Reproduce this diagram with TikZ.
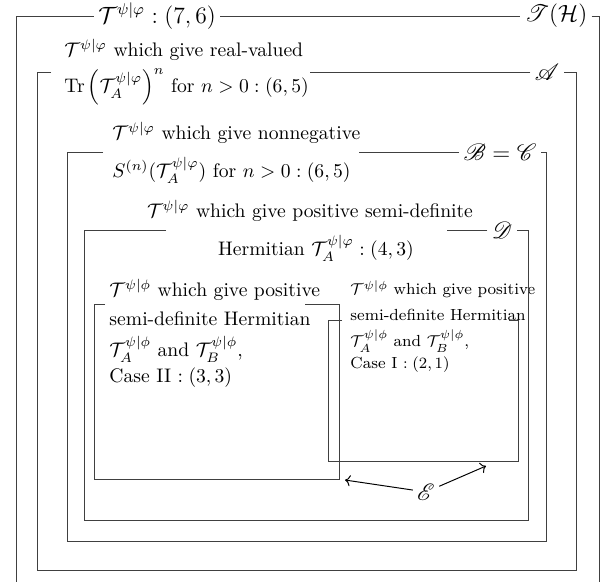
\documentclass[tikz,border=0pt]{standalone}
\usepackage{amsmath}
\usepackage{amssymb}
\usepackage{mathrsfs}
\usetikzlibrary{arrows.meta, positioning, calc}
\tikzset{
    setdiagram/.style={x=0.51pt, y=-0.51pt, line width=0.5pt, font=\normalsize},
    setedge/.style={draw=black!75},
    txt/.style={anchor=west, inner sep=0pt},
    smalltxt/.style={txt, font=\fontsize{8.2}{10}\selectfont},
    setname/.style={inner sep=2pt, font=\large},
}

\begin{document}
\begin{tikzpicture}[setdiagram]
    \useasboundingbox (0,0) rectangle (613,582);

    % names sitting on the top edges
    \node[setname] (ttl) at (157,16)  {$\mathcal{T}^{\psi|\varphi}:(7,6)$};
    \node[setname] (nT)  at (556,16)  {$\mathscr{T}(\mathcal{H})$};
    \node[setname] (nA)  at (547,72)  {$\mathscr{A}$};
    \node[setname] (nB)  at (500,152) {$\mathscr{B}=\mathscr{C}$};
    \node[setname] (nD)  at (502,230) {$\mathscr{D}$};
    \node[setname] (nE)  at (426,492) {$\mathscr{E}$};

    % text of each set
    \node[txt] (aUp) at (64,50)  {$\mathcal{T}^{\psi|\varphi}$ which give real-valued};
    \node[txt] (aLo) at (64,87)  {$\mathrm{Tr}\left(\mathcal{T}_A^{\psi|\varphi}\right)^n$ for $n>0:(6,5)$};
    \node[txt] (bUp) at (112,133) {$\mathcal{T}^{\psi|\varphi}$ which give nonnegative};
    \node[txt] (bLo) at (112,170) {$S^{(n)}(\mathcal{T}_A^{\psi|\varphi})$ for $n>0:(6,5)$};
    \node[txt, anchor=center] (dUp) at (310,211) {$\mathcal{T}^{\psi|\varphi}$ which give positive semi-definite};
    \node[txt, anchor=center] (dLo) at (316,248) {Hermitian $\mathcal{T}_A^{\psi|\varphi}:(4,3)$};

    \node[txt] (c2a) at (109,290) {$\mathcal{T}^{\psi|\phi}$ which give positive};
    \node[txt] (c2b) at (109,319) {semi-definite Hermitian};
    \node[txt] (c2c) at (109,349) {$\mathcal{T}_A^{\psi|\phi}$ and $\mathcal{T}_B^{\psi|\phi}$,};
    \node[txt] (c2d) at (109,378) {Case II $:(3,3)$};

    \node[smalltxt] (c1a) at (350,289) {$\mathcal{T}^{\psi|\phi}$ which give positive};
    \node[smalltxt] (c1b) at (350,315) {semi-definite Hermitian};
    \node[smalltxt] (c1c) at (350,341) {$\mathcal{T}_A^{\psi|\phi}$ and $\mathcal{T}_B^{\psi|\phi}$,};
    \node[smalltxt] (c1d) at (350,365) {Case I $:(2,1)$};

    % T(H), open at the bottom
    \draw[setedge] (ttl.west) -- (16,16) -- (16,582);
    \draw[setedge] (ttl.east) -- (nT.west);
    \draw[setedge] (nT.east) -- (599,16) -- (599,582);

    % A
    \draw[setedge] (51,72) -- (37,72) -- (37,570) -- (576,570) -- (576,72) -- (nA.east);
    \draw[setedge] (nA.west) -- (310,72);

    % B = C
    \draw[setedge] (103,152) -- (67,152) -- (67,541) -- (546,541) -- (546,152) -- (nB.east);
    \draw[setedge] (nB.west) -- (359,152);

    % D
    \draw[setedge] (166,230) -- (84,230) -- (84,520) -- (528,520) -- (528,230) -- (nD.east);
    \draw[setedge] (nD.west) -- (447,230);

    % case II and case I
    \draw[setedge] (105,304) -- (94,304) -- (94,479) -- (339,479) -- (339,304) -- (305,304);
    \draw[setedge] (342,320) -- (328,320) -- (328,461) -- (518,461) -- (518,320) -- (509,320);

    % E points at both cases
    \draw[->] (nE) -- (345,480);
    \draw[->] (nE) -- (486,466);
\end{tikzpicture}
\end{document}
